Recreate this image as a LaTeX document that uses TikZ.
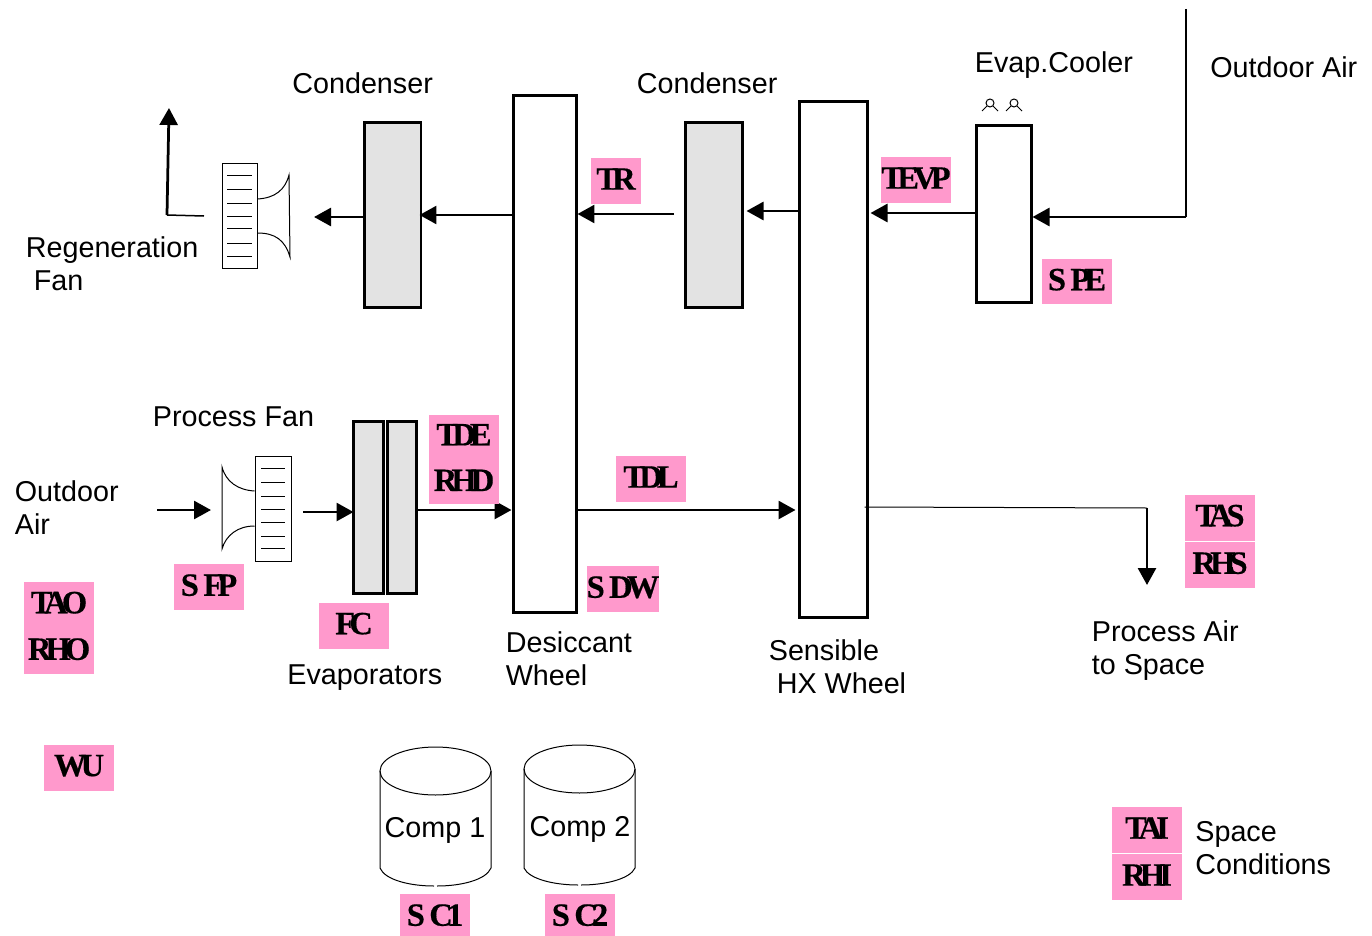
\documentclass[tikz,border=0pt]{standalone}
\usepackage{fontspec}
\usetikzlibrary{arrows.meta}
\setmainfont{Liberation Sans}
\newfontfamily\tagface[LetterSpace=-18, FakeBold=0.4]{Liberation Serif Bold}
\definecolor{tagpink}{HTML}{FF99CC}
\definecolor{coilgray}{HTML}{E3E3E3}

\begin{document}
\begin{tikzpicture}[x=0.02cm, y=-0.02cm, >={Triangle[length=0.34cm, width=0.36cm]},
    wheel/.style={draw, line width=0.06cm, inner sep=0pt, fill=white},
    coil/.style={wheel, fill=coilgray},
    tagbox/.style={fill=tagpink, inner sep=0pt, minimum width=1.4cm, minimum height=0.92cm, align=center,
        text depth=0.08cm, font=\fontsize{18.5}{24}\tagface},
    lbl/.style={anchor=west, inner sep=0pt, align=left, font=\fontsize{16.35}{18.8}\selectfont},
    flow/.style={->, line width=0.055cm},
    duct/.style={line width=0.03cm},
    thin part/.style={line width=0.02cm}]
    \useasboundingbox (0, 0) rectangle (1372, 936);

    % components
    \node[coil, minimum width=1.14cm, minimum height=3.72cm] (condL) at (392.5, 215) {};
    \node[coil, minimum width=1.14cm, minimum height=3.72cm] (condR) at (713.5, 215) {};
    \node[wheel, minimum width=1.26cm, minimum height=10.36cm] (desiccant) at (544.5, 354) {};
    \node[wheel, minimum width=1.36cm, minimum height=10.34cm] (sensible) at (833, 359.5) {};
    \node[wheel, minimum width=1.10cm, minimum height=3.56cm] (cooler) at (1003.5, 214) {};
    \node[coil, minimum width=0.60cm, minimum height=3.46cm] (evapA) at (368, 507.5) {};
    \node[coil, minimum width=0.58cm, minimum height=3.46cm] (evapB) at (401.5, 507.5) {};

    % regeneration fan
    \node[draw, thin part, inner sep=0pt, minimum width=0.70cm, minimum height=2.12cm] (regenFan) at (239.5, 216) {};
    \draw[thin part] (227, 175) -- (252, 175) (227, 189) -- (252, 189) (227, 203) -- (252, 203)
        (227, 216) -- (252, 216) (227, 228) -- (252, 228) (227, 243) -- (252, 243) (227, 256) -- (252, 256);
    \draw[thin part] (regenFan.east |- 0, 199) .. controls (275, 198) and (285, 190) .. (289, 175) -- (290, 257)
        .. controls (285, 240) and (275, 233) .. (regenFan.east |- 0, 233);

    % process fan
    \node[draw, thin part, inner sep=0pt, minimum width=0.72cm, minimum height=2.12cm] (procFan) at (273, 509) {};
    \draw[thin part] (261, 468) -- (285, 468) (261, 482) -- (285, 482) (261, 496) -- (285, 496)
        (261, 509) -- (285, 509) (261, 522) -- (285, 522) (261, 536) -- (285, 536) (261, 548) -- (285, 548);
    \draw[thin part] (procFan.west |- 0, 491) .. controls (238, 490) and (226, 482) .. (222, 467) -- (222, 549)
        .. controls (226, 535) and (238, 526) .. (procFan.west |- 0, 526);

    % spray above the cooler
    \draw[thin part] (990, 103) circle (4);
    \draw[thin part] (1014, 103) circle (4);
    \draw[thin part] (982, 111) -- (987, 106) (998, 111) -- (993, 106);
    \draw[thin part] (1006, 111) -- (1011, 106) (1022, 111) -- (1017, 106);

    % compressors
    \draw[thin part] (435.5, 771) ellipse (55.5 and 24);
    \draw[thin part] (380, 771) -- (380, 868) .. controls (385, 880) and (410, 886) .. (434, 886);
    \draw[thin part] (491, 771) -- (491, 868) .. controls (486, 880) and (461, 886) .. (437, 886);
    \draw[thin part] (579.5, 769) ellipse (55.5 and 24);
    \draw[thin part] (524, 769) -- (524, 868) .. controls (529, 879) and (554, 885) .. (578, 885);
    \draw[thin part] (635, 769) -- (635, 868) .. controls (630, 879) and (605, 885) .. (581, 885);
    \node[lbl, anchor=center] (compA) at (435, 830) {Comp 1};
    \node[lbl, anchor=center] (compB) at (580, 829) {Comp 2};

    % regeneration air path
    \coordinate (ambient) at (1186, 9);
    \coordinate (bend) at (1186, 217);
    \coordinate (fanOut) at (204, 216);
    \coordinate (elbow) at (167, 215);
    \coordinate (exhaust) at (169, 108);
    \coordinate (condTail) at (674, 214);
    \draw[duct] (ambient) -- (bend);
    \draw[flow] (bend) -- (cooler.east |- bend);
    \draw[flow] (cooler.west |- 0, 213) -- ([xshift=0.04cm]sensible.east |- 0, 213);
    \draw[flow] (sensible.west |- 0, 211) -- ([xshift=0.06cm]condR.east |- 0, 211);
    \draw[flow] (condTail) -- (desiccant.east |- condTail);
    \draw[flow] (desiccant.west |- 0, 215) -- ([xshift=-0.06cm]condL.east |- 0, 215);
    \draw[flow] (condL.west |- 0, 217) -- (314, 217);
    \draw[duct] (fanOut) -- (elbow);
    \draw[flow] (elbow) -- (exhaust);

    % process air path
    \coordinate (procIn) at (157, 510);
    \coordinate (procTip) at (211, 510);
    \coordinate (fanExit) at (303, 512);
    \coordinate (toSpace) at (1147, 508);
    \coordinate (spaceTip) at (1147, 585);
    \draw[flow] (procIn) -- (procTip);
    \draw[flow] (fanExit) -- ([xshift=0.04cm]evapA.west |- fanExit);
    \draw[flow] (evapB.east |- 0, 510) -- (desiccant.west |- 0, 510);
    \draw[flow] (desiccant.east |- 0, 510) -- ([xshift=-0.04cm]sensible.west |- 0, 510);
    \draw[thin part] ([xshift=-0.08cm]sensible.east |- 0, 507) -- (toSpace);
    \draw[flow] (toSpace) -- (spaceTip);

    % texts
    \node[lbl] (condLabelL) at (292, 83) {Condenser};
    \node[lbl] (condLabelR) at (636.5, 83) {Condenser};
    \node[lbl] (coolerLabel) at (974.5, 65) {Evap.Cooler};
    \node[lbl] (ambientLabel) at (1210, 67) {Outdoor Air};
    \node[lbl] (regenLabel) at (25.5, 264) {Regeneration\\ \ Fan};
    \node[lbl] (procFanLabel) at (152.5, 417) {Process Fan};
    \node[lbl] (procInLabel) at (14.5, 508) {Outdoor\\Air};
    \node[lbl] (desiccantLabel) at (505.5, 659) {Desiccant\\Wheel};
    \node[lbl] (evapLabel) at (287, 678) {Evaporators};
    \node[lbl] (sensibleLabel) at (768.5, 667) {Sensible\\ \ HX Wheel};
    \node[lbl] (spaceLabel) at (1091.5, 651) {Process Air\\to Space};
    \node[lbl] (condsLabel) at (1195, 848) {Space\\Conditions};

    % sensor tags
    \node[tagbox, minimum width=1.0cm] (tagTR) at (616, 181) {TR};
    \node[tagbox] (tagTEVP) at (916, 180) {TEVP};
    \node[tagbox, minimum height=0.90cm] (tagSPE) at (1077, 281.5) {S\kern2.5pt PE};
    \node[tagbox, minimum height=1.78cm] (tagTDE) at (464, 459.5) {TDE\\[2pt]RHD};
    \node[tagbox] (tagTDL) at (651, 479) {TDL};
    \node[tagbox] (tagSDW) at (623, 589) {S\kern2.5pt DW};
    \node[tagbox] (tagSFP) at (209, 587) {S\kern2.5pt FP};
    \node[tagbox] (tagFC) at (354, 625.5) {FC};
    \node[tagbox] (tagTAS) at (1220, 517.5) {TAS};
    \node[tagbox] (tagRHS) at (1220, 565) {RHS};
    \node[tagbox] (tagTAO) at (59, 604.5) {TAO};
    \node[tagbox] (tagRHO) at (59, 651) {RHO};
    \node[tagbox] (tagWU) at (79, 767.5) {WU};
    \node[tagbox, minimum height=0.84cm, text depth=0cm] (tagSCa) at (435, 915) {S\kern2.5pt C1};
    \node[tagbox, minimum height=0.84cm, text depth=0cm] (tagSCb) at (580, 915) {S\kern2.5pt C2};
    \node[tagbox] (tagTAI) at (1147, 830) {TAI};
    \node[tagbox] (tagRHI) at (1147, 877) {RHI};
\end{tikzpicture}
\end{document}
